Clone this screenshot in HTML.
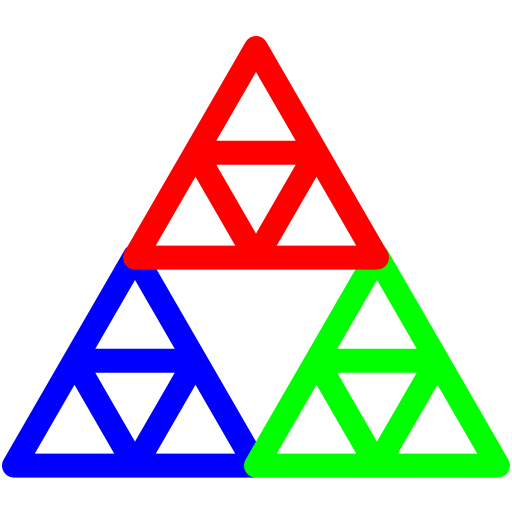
<!DOCTYPE html>
<html><head><meta charset="utf-8"><style>html,body{margin:0;padding:0;background:#fff}svg{display:block}</style></head>
<body>
<svg id="chart" width="512" height="512" viewBox="0 0 512 512" xmlns="http://www.w3.org/2000/svg"></svg>
<script>
const triangleNames = ['blue-triangle','green-triangle','red-triangle'];
const triangleColors = ['#0000ff','#00ff00','#ff0000'];
const apexX = [135, 377, 256];
const apexY = [256, 256, 48];
const sideLen = 242;
const svg = document.getElementById('chart');
const NS = 'http://www.w3.org/2000/svg';
for (let i = 0; i < triangleNames.length; i++) {
  const ax = apexX[i], ay = apexY[i];
  const h = sideLen * Math.sqrt(3) / 2;
  const L = [ax - sideLen/2, ay + h], R = [ax + sideLen/2, ay + h], A = [ax, ay];
  const mL = [(A[0]+L[0])/2, (A[1]+L[1])/2], mR = [(A[0]+R[0])/2, (A[1]+R[1])/2], mB = [(L[0]+R[0])/2, L[1]];
  const d = `M${A}L${L}L${R}Z M${mL}L${mR}L${mB}Z`;
  const p = document.createElementNS(NS, 'path');
  p.setAttribute('d', d);
  p.setAttribute('fill', 'none');
  p.setAttribute('stroke', triangleColors[i]);
  p.setAttribute('stroke-width', '24');
  p.setAttribute('stroke-linejoin', 'round');
  p.setAttribute('stroke-linecap', 'round');
  
  
  svg.appendChild(p);
}
</script>
</body></html>
